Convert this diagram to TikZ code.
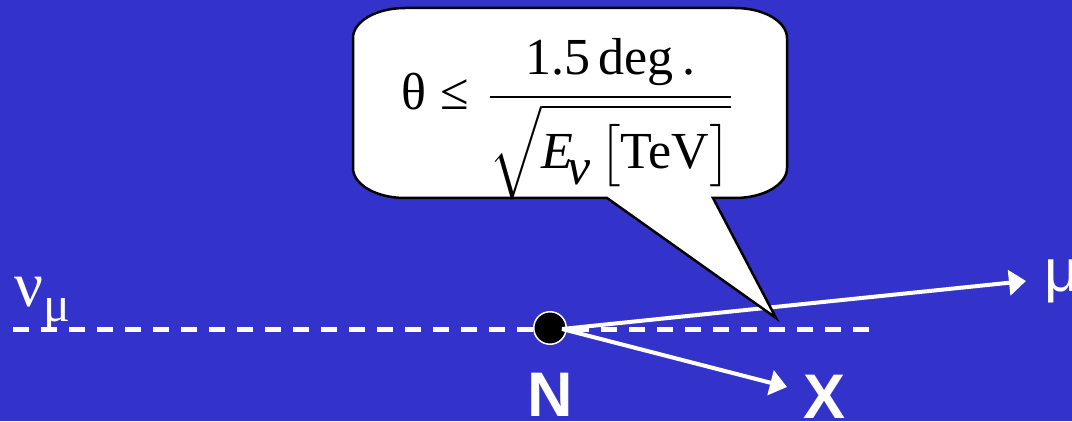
\documentclass[tikz,border=0pt]{standalone}
\usepackage{amsmath}
\usepackage{graphicx}
\usepackage{fontspec}
\setmainfont{Liberation Serif}
\newfontfamily\labelfont{Liberation Sans}
\usetikzlibrary{arrows.meta,positioning}
\definecolor{bgblue}{RGB}{51,51,204}

\begin{document}
\begin{tikzpicture}[
  x=1pt, y=1pt,
  >={Triangle[length=17pt,width=25pt]},
  beam/.style={white, line width=4.5pt, dash pattern=on 16pt off 12pt},
  track/.style={white, line width=4pt, ->},
  vertex/.style={circle, fill=black, draw=white, line width=1.5pt, minimum size=32.5pt, inner sep=0pt},
  heavy/.style={font=\labelfont\bfseries\fontsize{63}{70}\selectfont, text=white, inner sep=0pt},
  particle/.style={font=\labelfont\fontsize{60}{66}\selectfont, text=white, inner sep=0pt},
  greek/.style={font=\fontsize{64}{70}\selectfont, text=white, inner sep=0pt},
  balloon/.style={fill=white, draw=black, line width=2.5pt}
]
\useasboundingbox (0,0) rectangle (1072,421);
\fill[bgblue] (0,0) rectangle (1072,421);

% incoming beam axis
\coordinate (beamin) at (13,91.5);
\coordinate (beamout) at (869,91.5);
\draw[beam] (beamin) -- (beamout);
\node[greek, anchor=base west] (numu) at (14,114)
  {ν\raisebox{-15pt}{\fontsize{50}{54}\selectfont μ}};

% interaction vertex and outgoing tracks
\node[vertex] (vtx) at (550,93) {};
\node[heavy, below=28pt of vtx] (nlab) {N};
\coordinate (kink) at (562,92);
\coordinate (mutip) at (1026,140);
\coordinate (xtip) at (787,34);
\draw[track] (kink) -- (mutip);
\draw[track] (kink) -- (xtip);
\node[particle, right=18pt of mutip] (mulab) {μ};
\node[heavy, below right=-12pt and 16pt of xtip] (xlab) {X};

% speech balloon with the angle bound
\filldraw[balloon] (607,223) -- (776,103) -- (713,223) -- (735,223)
  arc[start angle=270, end angle=360, x radius=52, y radius=30] -- (787,383)
  arc[start angle=0, end angle=90, x radius=52, y radius=30] -- (405,413)
  arc[start angle=90, end angle=180, x radius=52, y radius=30] -- (353,253)
  arc[start angle=180, end angle=270, x radius=52, y radius=30] -- cycle;
\node[anchor=base west, inner sep=0pt] (bound) at (401,311)
  {\scalebox{5.2}{$\text{θ}\;\text{≤}\;\dfrac{\text{1.5\,deg\,.}}{\sqrt{\text{\itshape E\kern-0.12em\raisebox{-3pt}{ν}}\,\bigl[\text{TeV}\bigr]}}$}};

\end{tikzpicture}
\end{document}
